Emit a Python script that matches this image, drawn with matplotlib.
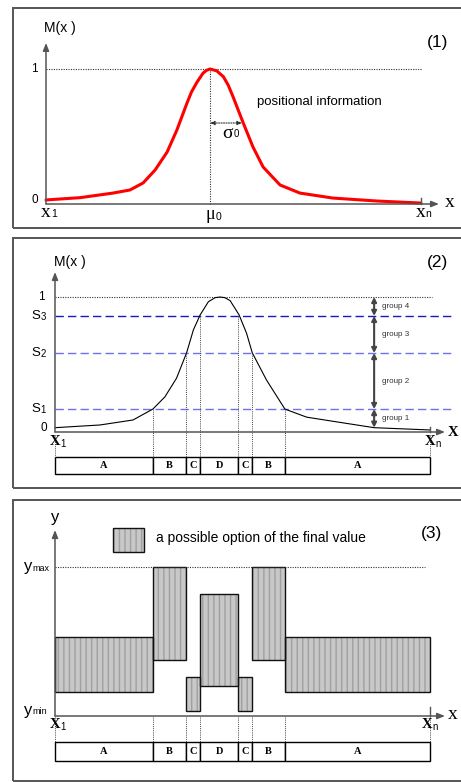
import matplotlib
matplotlib.use('Agg')
import matplotlib.pyplot as plt
from matplotlib.patches import Rectangle

W, H = 461, 782
SANS = 'Liberation Sans'
SERIF = 'Liberation Serif'
AXC = '#555555'

# panel (1): positional information M(x) (x1=0, xn=100)
curve1_x = [0, 9.1, 17.9, 22.4, 25.9, 29.1, 32.3, 34.9, 37.6, 38.8, 40.3, 41.9, 42.8, 43.7,
            45.5, 47.3, 48.6, 49.9, 52.5, 55.2, 57.9, 62.4, 67.7, 76.5, 88.3, 100]
curve1_y = [0.03, 0.047, 0.081, 0.104, 0.156, 0.252, 0.385, 0.548, 0.748, 0.83, 0.904, 0.97, 0.99, 1.0,
            0.987, 0.943, 0.88, 0.793, 0.607, 0.422, 0.274, 0.141, 0.081, 0.044, 0.022, 0.007]
mu0 = 43.7
sigma0 = 8.6

# panel (2): same membership curve with thresholds S1..S3
curve2_x = [0, 12, 20.8, 26.1, 29.3, 32.4, 35.1, 36.9, 38.7, 40.9, 42.7, 44, 45.3,
            46.7, 49.1, 51.1, 52.6, 56.4, 61.3, 67.1, 74.9, 85.1, 100]
curve2_y = [0.032, 0.052, 0.089, 0.17, 0.26, 0.398, 0.587, 0.756, 0.867, 0.965, 0.995, 1.0, 0.995,
            0.973, 0.867, 0.73, 0.587, 0.385, 0.17, 0.11, 0.076, 0.032, 0.015]
thresholds = [0.17, 0.585, 0.86]
threshold_names = ['1', '2', '3']
threshold_colors = ['#7070ee', '#7070ee', '#1818c8']
group_x = 85.1
group_levels = [0.032, 0.17, 0.585, 0.86, 1.0]
group_names = ['group 1', 'group 2', 'group 3', 'group 4']

# regions along x, shared by panels (2) and (3)
edges = [0, 26.1, 34.9, 38.7, 48.8, 52.5, 61.3, 100]
regions = ['A', 'B', 'C', 'D', 'C', 'B', 'A']
cross_levels = [0.17, 0.585, 0.86, 0.86, 0.585, 0.17]

# panel (3): range of possible final values per region
opt_low = [0.16, 0.376, 0.034, 0.20, 0.034, 0.376, 0.16]
opt_high = [0.53, 1.0, 0.26, 0.82, 0.26, 1.0, 0.53]


def panel(fig, top, bottom, x0px, y0px, y1px, left=13, right=463):
    # axes covering the panel frame, data x 0..100 -> x0px..x0px+375, y 0..1 -> y0px..y1px
    ax = fig.add_axes([left / W, 1 - bottom / H, (right - left) / W, (bottom - top) / H])
    sx = 375 / 100
    sy = y0px - y1px
    ax.set_xlim((left - x0px) / sx, (right - x0px) / sx)
    ax.set_ylim((y0px - bottom) / sy, (y0px - top) / sy)
    ax.axis('off')
    ax.add_patch(Rectangle((0, 0), 1, 1, transform=ax.transAxes, fill=False,
                           edgecolor=AXC, lw=1.4, clip_on=False))
    return ax


def arrow_axes(ax, xtip, ytip):
    st = '-|>,head_length=0.45,head_width=0.18'
    ax.annotate('', xy=(xtip, 0), xytext=(0, 0),
                arrowprops=dict(arrowstyle=st, color=AXC, lw=1.1, shrinkA=0, shrinkB=0,
                                mutation_scale=10))
    ax.annotate('', xy=(0, ytip), xytext=(0, 0),
                arrowprops=dict(arrowstyle=st, color=AXC, lw=1.1, shrinkA=0, shrinkB=0,
                                mutation_scale=10))


def sub_label(ax, x, y, main, sub, size, subsize, fam=SERIF, subfam=SANS, weight='normal', dy=-1.5):
    ax.text(x, y, main, ha='right', va='center', fontsize=size, family=fam, weight=weight)
    ax.annotate(sub, (x, y), xytext=(0.3, dy), textcoords='offset points',
                ha='left', va='center', fontsize=subsize, family=subfam)


def region_box(ax, y_top, y_bot):
    widths = [b - a for a, b in zip(edges[:-1], edges[1:])]
    ax.bar(edges[:-1], [y_top - y_bot] * len(widths), width=widths, bottom=y_bot,
           align='edge', facecolor='white', edgecolor='black', lw=1.0)
    for a, w, name in zip(edges[:-1], widths, regions):
        ax.text(a + w / 2, (y_top + y_bot) / 2, name, ha='center', va='center',
                fontsize=7.5, family=SERIF, weight='bold')


fig = plt.figure(figsize=(W / 100, H / 100), dpi=100)

# ---------------- panel (1)
ax1 = panel(fig, 8, 228, 46, 204, 69, left=13)
arrow_axes(ax1, 104.8, 1.193)
ax1.plot([0, 100.3], [1, 1], ls=(0, (1, 1.2)), color='#333333', lw=0.8)
ax1.plot([mu0, mu0], [0, 1], ls=(0, (1, 1.2)), color='#333333', lw=0.8)
ax1.plot(curve1_x, curve1_y, color='#ff0000', lw=2.2, solid_joinstyle='round',
         solid_capstyle='round')
ax1.plot([100, 100], [0, 0.045], color=AXC, lw=1)
ax1.annotate('', xy=(mu0 + sigma0, 0.6), xytext=(mu0, 0.6),
             arrowprops=dict(arrowstyle='<|-|>,head_length=0.35,head_width=0.15', color='#333333',
                             lw=0.8, ls=(0, (1, 1.2)), shrinkA=0, shrinkB=0, mutation_scale=8))
ax1.text(56.3, 0.756, 'positional information', ha='left', va='center', fontsize=9.5, family=SANS)
sub_label(ax1, 49.9, 0.525, 'σ', '0', 14, 7, fam=SERIF, dy=-0.5)
ax1.text(3.7, 1.304, 'M(x )', ha='center', va='center', fontsize=10, family=SANS)
ax1.text(104.5, 1.193, '(1)', ha='center', va='center', fontsize=12.5, family=SANS)
ax1.text(-2.1, 1.0, '1', ha='right', va='center', fontsize=8.5, family=SANS)
ax1.text(-2.1, 0.03, '0', ha='right', va='center', fontsize=8.5, family=SANS)
ax1.text(107.7, 0.01, 'x', ha='center', va='center', fontsize=14, family=SERIF)
sub_label(ax1, 1.2, -0.06, 'x', '1', 14, 7.5)
sub_label(ax1, 45.1, -0.08, 'μ', '0', 13, 7.5)
sub_label(ax1, 101.1, -0.06, 'x', 'n', 14, 7.5)

# ---------------- panel (2)
ax2 = panel(fig, 238, 488, 55, 432, 297)
arrow_axes(ax2, 104.0, 1.185)
ax2.plot([0, 100.5], [1, 1], ls=(0, (1, 1.2)), color='#333333', lw=0.8)
for s, c in zip(thresholds, threshold_colors):
    ax2.plot([0, 106.5], [s, s], color=c, lw=1.0, dashes=(6, 3))
ax2.plot(curve2_x, curve2_y, color='black', lw=0.8)
ax2.plot([100, 100], [0, 0.04], color=AXC, lw=1)
box2_top, box2_bot = -0.185, -0.311
for xe, lv in zip(edges[1:-1], cross_levels):
    ax2.plot([xe, xe], [lv, box2_top], ls=(0, (1, 1.2)), color='#444444', lw=0.7)
for xe in [edges[0], edges[-1]]:
    ax2.plot([xe, xe], [-0.02, box2_top], ls=(0, (1, 1.2)), color='#444444', lw=0.7)
region_box(ax2, box2_top, box2_bot)
for lo, hi, name in zip(group_levels[:-1], group_levels[1:], group_names):
    ax2.annotate('', xy=(group_x, hi), xytext=(group_x, lo),
                 arrowprops=dict(arrowstyle='<|-|>,head_length=0.35,head_width=0.18', color='#444444',
                                 lw=1.5, shrinkA=0, shrinkB=0, mutation_scale=8))
    ax2.text(group_x + 2.1, (lo + hi) / 2, name, ha='left', va='center', fontsize=5.8,
             family=SANS, color='#333333')
ax2.text(4.0, 1.259, 'M(x )', ha='center', va='center', fontsize=10, family=SANS)
ax2.text(101.9, 1.259, '(2)', ha='center', va='center', fontsize=12.5, family=SANS)
ax2.text(-2.7, 1.0, '1', ha='right', va='center', fontsize=8.5, family=SANS)
ax2.text(-2.0, 0.03, '0', ha='right', va='center', fontsize=8.5, family=SANS)
for s, n in zip(thresholds, threshold_names):
    sub_label(ax2, -4.0, s, 'S', n, 9.5, 7, fam=SANS, dy=-0.5)
ax2.text(106.1, 0.0, 'X', ha='center', va='center', fontsize=10.5, family=SERIF, weight='bold')
sub_label(ax2, 1.3, -0.074, 'X', '1', 10.5, 7, weight='bold')
sub_label(ax2, 101.3, -0.074, 'X', 'n', 10.5, 7, weight='bold')

# ---------------- panel (3)
ax3 = panel(fig, 500, 781, 55, 716, 567)
arrow_axes(ax3, 104.0, 1.248)
ax3.plot([0, 98.6], [1, 1], ls=(0, (1, 1.2)), color='#333333', lw=0.8)
ax3.plot([100, 100], [0, 0.06], color=AXC, lw=1)
lefts = edges[:-1]
widths = [b - a for a, b in zip(edges[:-1], edges[1:])]
heights = [h - l for l, h in zip(opt_low, opt_high)]
ax3.bar(lefts, heights, width=widths, bottom=opt_low, align='edge', facecolor='#c8c8c8',
        edgecolor='#a0a0a0', hatch='|||', lw=0)
ax3.bar(lefts, heights, width=widths, bottom=opt_low, align='edge', fill=False,
        edgecolor='#111111', lw=1.0)
box3_top, box3_bot = -0.174, -0.302
for xe in edges:
    ax3.plot([xe, xe], [-0.005, box3_top], ls=(0, (1, 1.2)), color='#444444', lw=0.7)
region_box(ax3, box3_top, box3_bot)
ax3.bar([15.5], [0.162], width=[8.2], bottom=[1.10], align='edge', facecolor='#c8c8c8',
        edgecolor='#a0a0a0', hatch='|||', lw=0)
ax3.bar([15.5], [0.162], width=[8.2], bottom=[1.10], align='edge', fill=False,
        edgecolor='#111111', lw=1.0)
ax3.text(26.9, 1.195, 'a possible option of the final value', ha='left', va='center',
         fontsize=10, family=SANS)
ax3.text(100.5, 1.228, '(3)', ha='center', va='center', fontsize=12.5, family=SANS)
ax3.text(0.0, 1.329, 'y', ha='center', va='center', fontsize=12, family=SANS)
sub_label(ax3, -6.1, 1.0, 'y', 'max', 12, 6.5, fam=SANS, dy=-1)
sub_label(ax3, -6.1, 0.04, 'y', 'min', 12, 6.5, fam=SANS, dy=-1)
ax3.text(106.1, 0.01, 'x', ha='center', va='center', fontsize=14, family=SERIF)
sub_label(ax3, 1.3, -0.06, 'X', '1', 10.5, 7, weight='bold')
sub_label(ax3, 100.5, -0.06, 'X', 'n', 10.5, 7, weight='bold')

fig.savefig('out.png', dpi=100)
